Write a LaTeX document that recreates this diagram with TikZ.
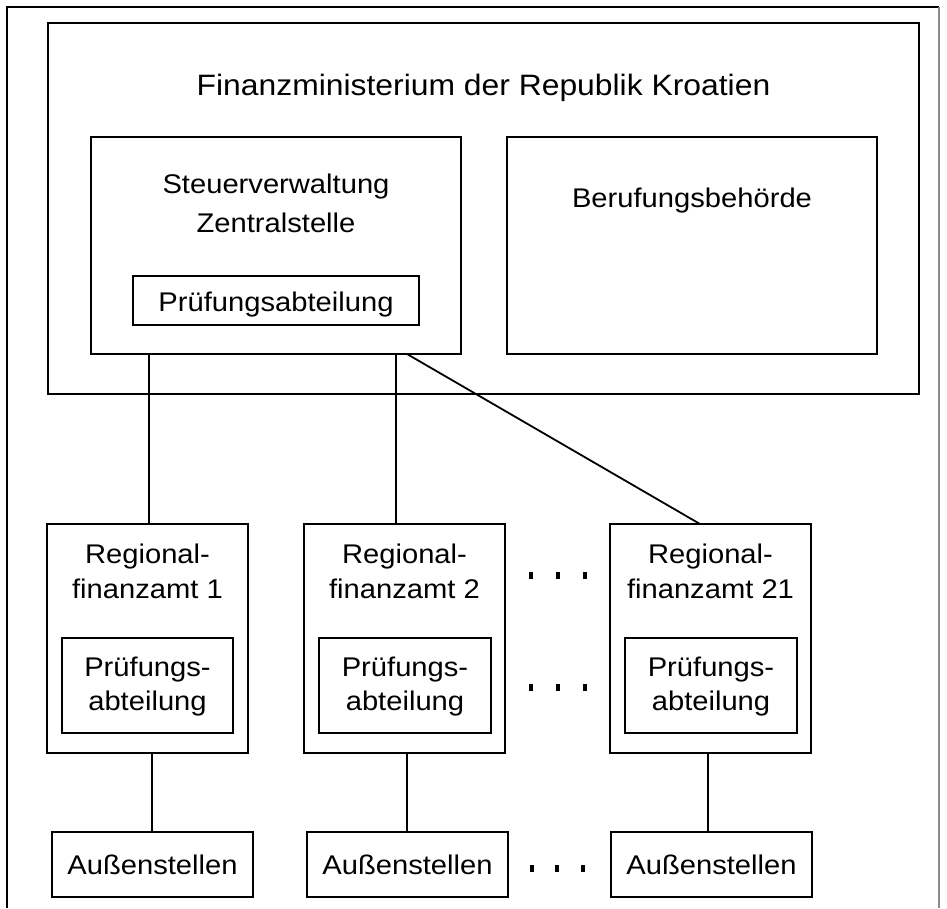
\documentclass[tikz,border=0pt]{standalone}
\usepackage{fontspec}
\setmainfont[FakeStretch=1.08]{Liberation Sans}
\usetikzlibrary{fit}
\tikzset{
  box/.style={draw, line width=1.8pt, rectangle, inner sep=0pt},
  frameline/.style={line width=2.2pt},
  txt/.style={font=\fontsize{27}{32}\selectfont, anchor=base, inner sep=0pt},
  bigtxt/.style={font=\fontsize{29.5}{34}\selectfont, anchor=base, inner sep=0pt},
  conn/.style={line width=1.8pt},
  dotmark/.style={fill=black, draw=none, minimum width=4pt, minimum height=7pt, inner sep=0pt}
}
\begin{document}
\begin{tikzpicture}[x=1pt,y=-1pt]
\useasboundingbox (0,0) rectangle (947,908);
% outer frame
\coordinate (fbl) at (7,908);
\coordinate (ftl) at (7,7);
\coordinate (ftr) at (939,7);
\coordinate (fbr) at (939,908);
\draw[frameline] (fbl) -- (ftl) -- (ftr);
\draw[line width=1.2pt, black!45] (ftr) -- (fbr);

% ministry
\node[box, fit={(48,23) (919,394)}] (min) {};
\node[bigtxt] (mint) at (483.5,95) {Finanzministerium der Republik Kroatien};

% Steuerverwaltung
\node[box, fit={(91,137) (461,354)}] (steuer) {};
\node[txt] (st1) at (276,193) {Steuerverwaltung};
\node[txt] (st2) at (276,232) {Zentralstelle};
\node[box, fit={(133,276) (419,325)}] (spa) {};
\node[txt] (spat) at (276,311) {Prüfungsabteilung};

% Berufungsbehoerde
\node[box, fit={(507,137) (877,354)}] (beruf) {};
\node[txt] (beruft) at (692,207) {Berufungsbehörde};

% Regional boxes
\node[box, fit={(47,524) (248,753)}] (reg1) {};
\node[box, fit={(304,524) (505,753)}] (reg2) {};
\node[box, fit={(610,524) (811,753)}] (reg3) {};
\node[txt] (r1a) at (147.5,563) {Regional-};
\node[txt] (r1b) at (147.5,598) {finanzamt 1};
\node[txt] (r2a) at (404.5,563) {Regional-};
\node[txt] (r2b) at (404.5,598) {finanzamt 2};
\node[txt] (r3a) at (710.5,563) {Regional-};
\node[txt] (r3b) at (710.5,598) {finanzamt 21};

\node[box, fit={(62,638) (233,733)}] (pa1) {};
\node[box, fit={(319,638) (491,733)}] (pa2) {};
\node[box, fit={(625,638) (797,733)}] (pa3) {};
\node[txt] (p1a) at (147.5,676) {Prüfungs-};
\node[txt] (p1b) at (147.5,710) {abteilung};
\node[txt] (p2a) at (405,676) {Prüfungs-};
\node[txt] (p2b) at (405,710) {abteilung};
\node[txt] (p3a) at (711,676) {Prüfungs-};
\node[txt] (p3b) at (711,710) {abteilung};

% Aussenstellen
\node[box, fit={(52,832) (253,897)}] (au1) {};
\node[box, fit={(307,832) (508,897)}] (au2) {};
\node[box, fit={(611,832) (812,897)}] (au3) {};
\node[txt] (a1t) at (au1.center |- 0,874) {Außenstellen};
\node[txt] (a2t) at (au2.center |- 0,874) {Außenstellen};
\node[txt] (a3t) at (au3.center |- 0,874) {Außenstellen};

% connectors from Steuerverwaltung
\coordinate (s1) at (149,354);
\coordinate (s2) at (396,354);
\coordinate (s3) at (407,354);
\coordinate (r3top) at (700,524);
\draw[conn] (s1) -- (s1 |- reg1.north);
\draw[conn] (s2) -- (s2 |- reg2.north);
\draw[conn] (s3) -- (r3top);

% connectors to Aussenstellen
\coordinate (d1) at (152,753);
\coordinate (d2) at (407,753);
\coordinate (d3) at (708,753);
\draw[conn] (d1) -- (d1 |- au1.north);
\draw[conn] (d2) -- (d2 |- au2.north);
\draw[conn] (d3) -- (d3 |- au3.north);

% ellipsis dots
\foreach \xx/\nn in {531/a,558/b,585/c}{
  \node[dotmark] (dt1\nn) at (\xx,575) {};
  \node[dotmark] (dt2\nn) at (\xx,687) {};
}
\foreach \xx/\nn in {532/a,557/b,583/c}{
  \node[dotmark] (dt3\nn) at (\xx,868) {};
}
\end{tikzpicture}
\end{document}
